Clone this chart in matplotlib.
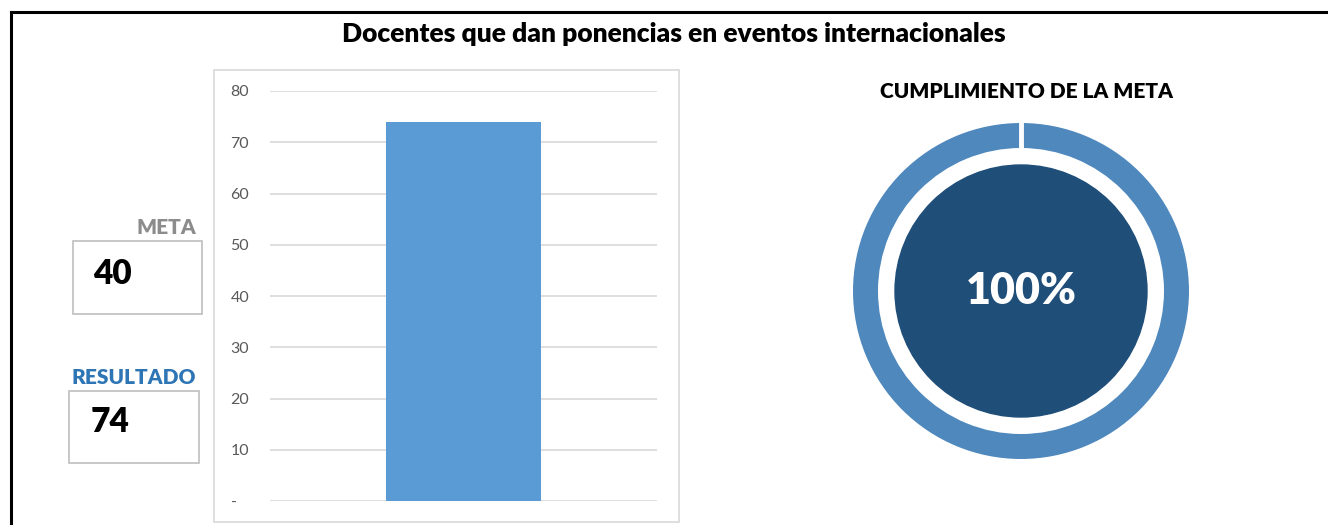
import matplotlib.pyplot as plt
from matplotlib.patches import Rectangle
from matplotlib.lines import Line2D

plt.rcParams['font.family'] = ['Lato', 'DejaVu Sans']

# datos del indicador
titulo = "Docentes que dan ponencias en eventos internacionales"
categorias = [""]
resultados = [74]
meta = 40
marcas_y = [0, 10, 20, 30, 40, 50, 60, 70, 80]
etiquetas_y = ["-   ", "10", "20", "30", "40", "50", "60", "70", "80"]
cumplimiento = 100  # porcentaje mostrado en la dona (tope 100%)

W, H = 1328, 525
fig = plt.figure(figsize=(W / 100, H / 100), dpi=100)

def fx(px):
    return px / W

def fy(py):
    return 1 - py / H

# marco exterior negro (arriba e izquierda)
fig.add_artist(Line2D([fx(11), 1.0], [fy(12), fy(12)], color='black', lw=2.2,
                      transform=fig.transFigure))
fig.add_artist(Line2D([fx(11), fx(11)], [fy(12), 0.0], color='black', lw=2.2,
                      transform=fig.transFigure))

fig.text(fx(674), fy(34), titulo, ha='center', va='center',
         fontsize=19, fontweight='heavy', color='black')

# recuadro gris del grafico de barras
fig.add_artist(Rectangle((fx(214), fy(522)), fx(679) - fx(214), fy(70) - fy(522),
                         transform=fig.transFigure, fill=False,
                         edgecolor='#d9d9d9', lw=1.2))

ax = fig.add_axes([fx(270), fy(501), fx(657) - fx(270), fy(91) - fy(501)])
ax.bar([0], resultados, width=0.403, color='#5b9bd5', zorder=3)
ax.set_xlim(-0.5, 0.5)
ax.set_ylim(0, 80)
ax.set_yticks(marcas_y)
ax.set_yticklabels(etiquetas_y)
ax.set_xticks([])
ax.grid(axis='y', color='#d9d9d9', lw=1.2, zorder=0)
for s in ax.spines.values():
    s.set_visible(False)
ax.tick_params(axis='y', length=0, pad=15, labelsize=11.5, labelcolor='#595959')

# cajas de meta y resultado
fig.text(fx(196), fy(228), "META", ha='right', va='center',
         fontsize=15, fontweight='heavy', color='#8c8c8c')
fig.add_artist(Rectangle((fx(73), fy(314)), fx(202) - fx(73), fy(241) - fy(314),
                         transform=fig.transFigure, fill=False,
                         edgecolor='#bfbfbf', lw=1.2))
fig.text(fx(93), fy(274), str(meta), ha='left', va='center',
         fontsize=24, fontweight='heavy', color='black')

fig.text(fx(196), fy(378), "RESULTADO", ha='right', va='center',
         fontsize=15, fontweight='heavy', color='#2e75b6')
fig.add_artist(Rectangle((fx(69), fy(463)), fx(199) - fx(69), fy(391) - fy(463),
                         transform=fig.transFigure, fill=False,
                         edgecolor='#bfbfbf', lw=1.2))
fig.text(fx(91), fy(422), str(resultados[0]), ha='left', va='center',
         fontsize=24, fontweight='heavy', color='black')

# dona de cumplimiento
cx, cy, r = 1021, 291, 168
half = 180
axd = fig.add_axes([fx(cx - half), fy(cy + half), 2 * half / W, 2 * half / H])
axd.pie([cumplimiento], radius=1.0, startangle=90, colors=['#4f88bd'],
        wedgeprops=dict(width=25 / r, edgecolor='none'))
axd.set_xlim(-half / r, half / r)
axd.set_ylim(-half / r, half / r)
axd.set_aspect('equal')
axd.axis('off')
axd.plot([0, 0], [1 - 27 / r, 1.02], color='white', lw=3.5)
axd.add_patch(plt.Circle((0, 0), 126 / r, color='#1f4e79'))
axd.text(0, 0.0, f"{cumplimiento}%", ha='center', va='center',
         fontsize=31, fontweight='heavy', color='white')

fig.text(fx(1026), fy(91), "CUMPLIMIENTO DE LA META", ha='center', va='center',
         fontsize=15, fontweight='heavy', color='black')

fig.savefig('out.png', dpi=100)
